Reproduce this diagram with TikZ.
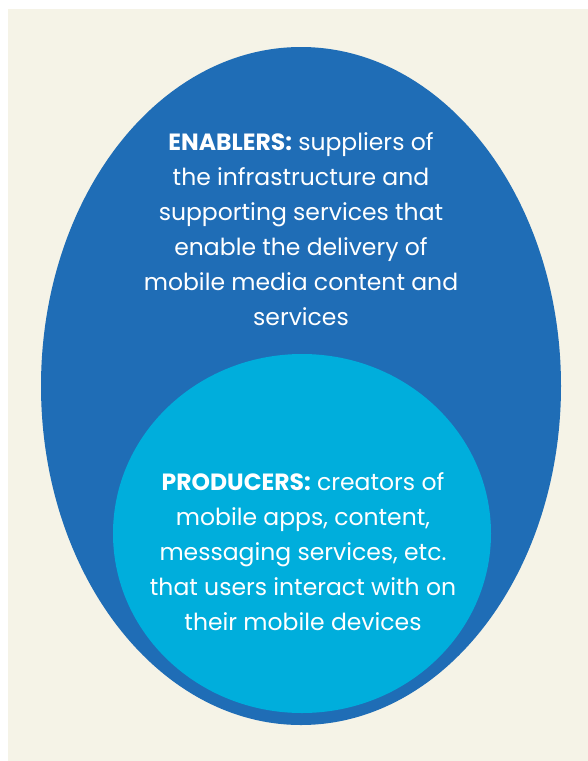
\documentclass[tikz,border=0pt]{standalone}
\usepackage{fontspec}
\setmainfont{Poppins}
\usetikzlibrary{positioning,shapes.geometric}
\definecolor{cream}{HTML}{F5F3E7}
\definecolor{deepblue}{HTML}{1F6DB6}
\definecolor{skyblue}{HTML}{00AEDC}
\tikzset{
  ring/.style={ellipse,inner sep=0pt,draw=none},
  blurb/.style={align=center,text=white,inner sep=0pt,
    font=\fontsize{23.5}{35}\selectfont}
}
\begin{document}
\begin{tikzpicture}[x=1pt,y=-1pt]
  \useasboundingbox (0,0) rectangle (588,761);
  \fill[white] (0,0) rectangle (588,761);
  \fill[cream] (8,9) rectangle (588,761);
  % nested rings
  \node[ring,fill=deepblue,minimum width=520pt,minimum height=678pt] (enablers) at (301,386) {};
  \node[ring,fill=skyblue,minimum width=378pt,minimum height=359pt] (producers) at (302,533.5) {};
  % texts
  \node[blurb] (enablerstext) at (301,229) {\textbf{ENABLERS:} suppliers of\\
    the infrastructure and\\ supporting services that\\ enable the delivery of\\
    mobile media content and\\ services};
  \node[blurb] (producerstext) at (303,552) {\textbf{PRODUCERS:} creators of\\
    mobile apps, content,\\ messaging services, etc.\\ that users interact with on\\
    their mobile devices};
\end{tikzpicture}
\end{document}
